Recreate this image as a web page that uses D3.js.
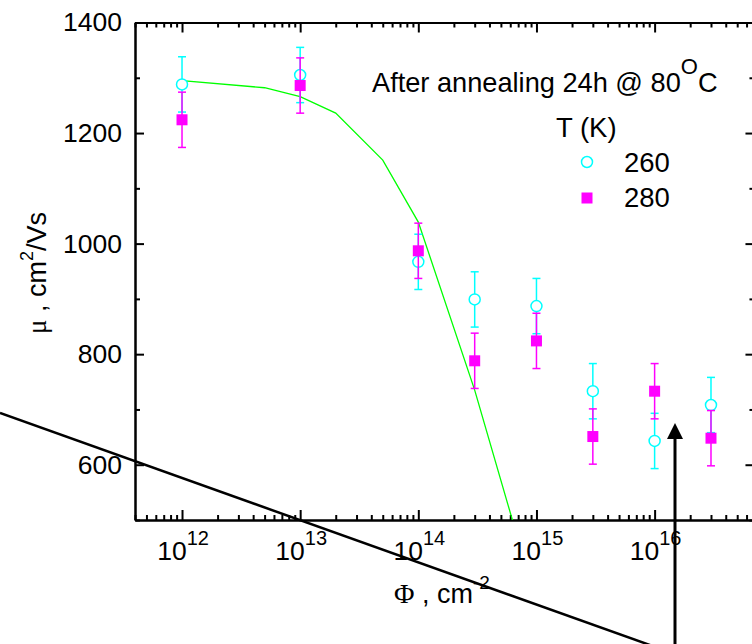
<!DOCTYPE html>
<html><head><meta charset="utf-8">
<script src="https://cdn.jsdelivr.net/npm/d3@7"></script>
<style>
body{margin:0;background:#fff}
svg{display:block}
text{font-family:"Liberation Sans",Arial,sans-serif;fill:#000}
</style>
</head><body>
<svg id="chart" width="752" height="644"></svg>
<script>
// ---- data ----
const fluence = [1e12, 1e13, 1e14, 3e14, 1e15, 3e15, 1e16, 3e16];
const mu260   = [1288, 1305, 967, 899, 887, 733, 643, 708];
const err260  = [50, 50, 50, 50, 50, 50, 50, 50];
const mu280   = [1224, 1286, 987, 788, 824, 651, 733, 648];
const err280  = [50, 50, 50, 50, 50, 50, 50, 50];
const fitX    = [1e12, 5e12, 1e13, 2e13, 5e13, 1e14, 3e14, 1e15];
const fitY    = [1295, 1282, 1266, 1236, 1151, 1039, 735, 350];
const yMajor  = [600, 800, 1000, 1200, 1400];
const yMinor  = [500, 700, 900, 1100, 1300];
const xMajorExp = [12, 13, 14, 15, 16];
const legendLabels = ["260", "280"];

// ---- layout ----
const svg = d3.select("#chart");
const L = 135, T = 22.5, B = 520, decade = 118.15;
const xDomain = [4e11, 7e16];
const R = L + decade * Math.log10(xDomain[1] / xDomain[0]);
const x = d3.scaleLog().domain(xDomain).range([L, R]);
const y = d3.scaleLinear().domain([500, 1400]).range([B, T]);

const xMajor = xMajorExp.map(e => Math.pow(10, e));
const xMinor = [];
for (let e = 11; e <= 16; e++) for (let m = 2; m <= 9; m++) {
  const v = m * Math.pow(10, e);
  if (v >= xDomain[0] && v <= xDomain[1]) xMinor.push(v);
}

svg.append("defs").append("clipPath").attr("id", "plotclip")
  .append("rect").attr("x", L).attr("y", T).attr("width", R - L).attr("height", B - T);

function styleAxis(g) {
  g.select(".domain").attr("stroke", "#000").attr("stroke-width", 2);
  g.selectAll(".tick line").attr("stroke", "#000").attr("stroke-width", 2);
}

// left axis
const gl = svg.append("g").attr("transform", `translate(${L},0)`)
  .call(d3.axisLeft(y).tickValues(yMajor).tickSizeInner(-9).tickSizeOuter(0).tickPadding(13).tickFormat(d3.format("d")));
styleAxis(gl);
gl.selectAll(".tick text").attr("font-size", 26.5).attr("font-family", "Liberation Sans, Arial, sans-serif").attr("fill", "#000");
const glm = svg.append("g").attr("transform", `translate(${L},0)`)
  .call(d3.axisLeft(y).tickValues(yMinor).tickSizeInner(-5).tickSizeOuter(0).tickFormat(""));
styleAxis(glm);

// right axis
const gr = svg.append("g").attr("transform", `translate(${R},0)`)
  .call(d3.axisLeft(y).tickValues(yMajor).tickSizeInner(9).tickSizeOuter(0).tickFormat(""));
styleAxis(gr);
const grm = svg.append("g").attr("transform", `translate(${R},0)`)
  .call(d3.axisLeft(y).tickValues(yMinor).tickSizeInner(5).tickSizeOuter(0).tickFormat(""));
styleAxis(grm);

// bottom axis
const gb = svg.append("g").attr("transform", `translate(0,${B})`)
  .call(d3.axisBottom(x).tickValues(xMajor).tickSizeInner(-10).tickSizeOuter(0).tickFormat(""));
styleAxis(gb);
const gbm = svg.append("g").attr("transform", `translate(0,${B})`)
  .call(d3.axisBottom(x).tickValues(xMinor).tickSizeInner(-5).tickSizeOuter(0).tickFormat(""));
styleAxis(gbm);

// top axis
const gt = svg.append("g").attr("transform", `translate(0,${T})`)
  .call(d3.axisTop(x).tickValues(xMajor).tickSizeInner(-10).tickSizeOuter(0).tickFormat(""));
styleAxis(gt);
const gtm = svg.append("g").attr("transform", `translate(0,${T})`)
  .call(d3.axisTop(x).tickValues(xMinor).tickSizeInner(-5).tickSizeOuter(0).tickFormat(""));
styleAxis(gtm);

// bottom tick labels with superscripts
const xl = svg.append("g").selectAll("text").data(xMajorExp).join("text")
  .attr("x", d => x(Math.pow(10, d)) + 1).attr("y", B + 40)
  .attr("text-anchor", "middle").attr("font-size", 26.5);
xl.append("tspan").text("10");
xl.append("tspan").attr("font-size", 20).attr("dy", -15).text(d => d);

// axis titles
const xt = svg.append("text").attr("x", 394).attr("y", 603).attr("font-size", 27);
xt.append("tspan").attr("font-family", "Liberation Serif, Times New Roman, serif").attr("font-size", 28).text("Φ");
xt.append("tspan").text(" , cm");
xt.append("tspan").attr("font-size", 19).attr("dy", -14).text("-2");

const yt = svg.append("text").attr("transform", "translate(46,273) rotate(-90)")
  .attr("text-anchor", "middle").attr("font-size", 27);
yt.append("tspan").attr("font-family", "Liberation Serif, Times New Roman, serif").text("μ");
yt.append("tspan").text(" , cm");
yt.append("tspan").attr("font-size", 18).attr("dy", -13).text("2");
yt.append("tspan").attr("dy", 13).text("/Vs");

// fit line
const plot = svg.append("g").attr("clip-path", "url(#plotclip)");
plot.append("path")
  .datum(fitX.map((v, i) => [v, fitY[i]]))
  .attr("fill", "none").attr("stroke", "#00ff00").attr("stroke-width", 1.3)
  .attr("d", d3.line().x(d => x(d[0])).y(d => y(d[1])));

// series
function drawSeries(vals, errs, color, shape) {
  const g = svg.append("g");
  const d = fluence.map((f, i) => ({f, v: vals[i], e: errs[i]}));
  g.selectAll("line.bar").data(d).join("line")
    .attr("x1", p => x(p.f)).attr("x2", p => x(p.f))
    .attr("y1", p => y(p.v + p.e)).attr("y2", p => y(p.v - p.e))
    .attr("stroke", color).attr("stroke-width", 1.5);
  ["top", "bot"].forEach(k => {
    g.selectAll("line.cap" + k).data(d).join("line")
      .attr("x1", p => x(p.f) - 4).attr("x2", p => x(p.f) + 4)
      .attr("y1", p => y(k === "top" ? p.v + p.e : p.v - p.e))
      .attr("y2", p => y(k === "top" ? p.v + p.e : p.v - p.e))
      .attr("stroke", color).attr("stroke-width", 1.5);
  });
  if (shape === "circle") {
    g.selectAll("circle").data(d).join("circle")
      .attr("cx", p => x(p.f)).attr("cy", p => y(p.v)).attr("r", 5.5)
      .attr("fill", "#fff").attr("stroke", color).attr("stroke-width", 1.5);
  } else {
    g.selectAll("rect").data(d).join("rect")
      .attr("x", p => x(p.f) - 5.5).attr("y", p => y(p.v) - 5.5)
      .attr("width", 11).attr("height", 11).attr("fill", color);
  }
}
drawSeries(mu260, err260, "#00ffff", "circle");
drawSeries(mu280, err280, "#ff00ff", "square");

// annotation
const an = svg.append("text").attr("x", 372).attr("y", 92).attr("font-size", 27.2);
an.append("tspan").text("After annealing 24h @ 80");
an.append("tspan").attr("font-size", 22).attr("dy", -18).text("O");
an.append("tspan").attr("dy", 18).text("C");

// legend
svg.append("text").attr("x", 556).attr("y", 137).attr("font-size", 27.5).text("T (K)");
svg.append("circle").attr("cx", 587).attr("cy", 162).attr("r", 5.5)
  .attr("fill", "#fff").attr("stroke", "#00ffff").attr("stroke-width", 1.5);
svg.append("rect").attr("x", 581.5).attr("y", 192.5).attr("width", 11).attr("height", 11).attr("fill", "#ff00ff");
svg.append("g").selectAll("text").data(legendLabels).join("text")
  .attr("x", 624).attr("y", (d, i) => 172 + i * 35).attr("font-size", 27.5).text(d => d);

// overlaid black line and arrow
svg.append("line").attr("x1", 0).attr("y1", 413).attr("x2", 752).attr("y2", 413 + 752 * 0.357)
  .attr("stroke", "#000").attr("stroke-width", 2.5);
svg.append("line").attr("x1", 675).attr("y1", 644).attr("x2", 675).attr("y2", 436)
  .attr("stroke", "#000").attr("stroke-width", 3);
svg.append("path").attr("d", "M667,439 L683,439 L675,423 Z").attr("fill", "#000");
</script>
</body></html>
